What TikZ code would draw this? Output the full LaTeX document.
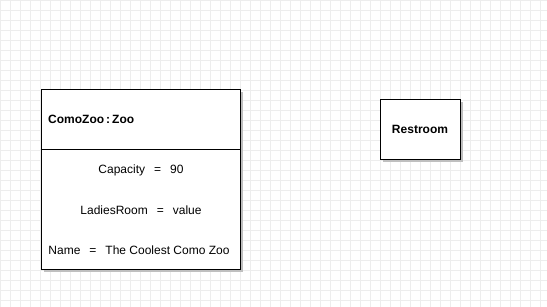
\documentclass[tikz,border=0pt]{standalone}
\usepackage{fontspec}
\setmainfont{Liberation Sans}
\usetikzlibrary{shadows}

\newcommand*{\wmax}{547}
\newcommand*{\hmax}{307}

\begin{document}
\begin{tikzpicture}
[
	x=1pt, y=-1pt,
	box/.style={draw,thick,fill=white,inner sep=0pt,drop shadow={shadow xshift=3pt,shadow yshift=-3pt,fill=black!25,opacity=1}},
	attr/.style={inner sep=0pt,font=\fontsize{12}{14}\selectfont},
	title/.style={inner sep=0pt,font=\fontsize{12}{14}\selectfont\bfseries}
]

	% grid
	\useasboundingbox (0,0) rectangle (\wmax,\hmax);
	\fill[white] (0,0) rectangle (\wmax,\hmax);
	\draw[black!7,line width=0.8pt] (0,0) grid[step=10pt] (\wmax,\hmax);

	% object
	\node[box,minimum width=199pt,minimum height=180pt] at (140.5,179) (zoo) {};
	\draw[thick] (zoo.west |- 0,149) -- (zoo.east |- 0,149);
	\node[title,anchor=west] at (48,119.5) (zooname) {ComoZoo\,:\,Zoo};
	\node[attr] at (141,170) (capacity) {Capacity\hspace{9pt}=\hspace{9pt}90};
	\node[attr] at (141,210) (ladies) {LadiesRoom\hspace{9pt}=\hspace{9pt}value};
	\node[attr] at (139,250) (name) {Name\hspace{9pt}=\hspace{9pt}The Coolest Como Zoo};

	% restroom
	\node[box,minimum width=80pt,minimum height=60pt] at (420,129) (restroom) {};
	\node[title] at (restroom) (restroomname) {Restroom};

\end{tikzpicture}
\end{document}
